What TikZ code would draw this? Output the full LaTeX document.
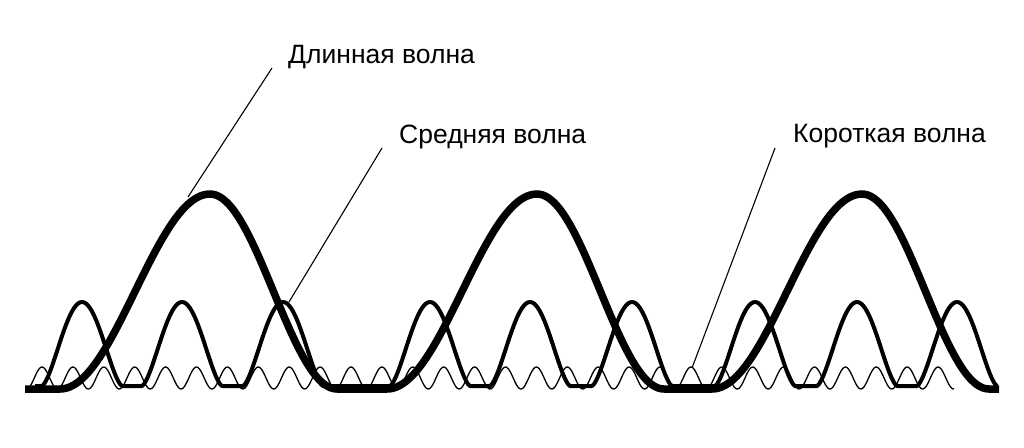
\documentclass[tikz,border=0pt]{standalone}
\usepackage{fontspec}
\setmainfont{Liberation Sans}
\usepackage{tikz}
\usetikzlibrary{positioning}

\begin{document}
\begin{tikzpicture}[
  x=1pt, y=-1pt,
  longwave/.style={line width=7.5pt, line join=round},
  midwave/.style={line width=4pt, line join=round},
  shortwave/.style={line width=1.3pt},
  leader/.style={line width=1.1pt},
  lbl/.style={anchor=base west, inner sep=0pt, font=\fontsize{26.5}{31}\selectfont}
]
\useasboundingbox (0,0) rectangle (1024,447);

% short wave
\draw[shortwave] plot[domain=27:954, samples=700, smooth] (\x,{378-11*cos((\x-42)/30.9*360)});
% medium wave
\draw[midwave] (35,386)
  \foreach \p in {82,182,283,430,530,632,755,857,957}{
    -- plot[domain=\p-40:\p+40, samples=41] (\x,{386-84*pow(max(0,cos(90*(\x-\p)/40)),1.5)})
  } -- (997,386);
% long wave
\draw[longwave] (25,389) -- (60,389)
  \foreach \p in {210,537,862}{
    -- plot[domain=\p-150:\p+127, samples=90, smooth] (\x,{389-195*(cos(90*(\x-\p)/(\x<\p ? 150 : 127)))^2})
  } -- (999,389);

% labels
\node[lbl] (long) at (288,63) {Длинная волна};
\node[lbl] (mid) at (399,143) {Средняя волна};
\node[lbl] (short) at (793,142) {Короткая волна};

\coordinate (longtip) at (188,197);
\coordinate (midtip) at (289,302);
\coordinate (shorttip) at (692,368);

\draw[leader] ([shift={(-16,5)}]long.base west) -- (longtip);
\draw[leader] ([shift={(-17,5)}]mid.base west) -- (midtip);
\draw[leader] ([shift={(-18,6)}]short.base west) -- (shorttip);
\end{tikzpicture}
\end{document}
